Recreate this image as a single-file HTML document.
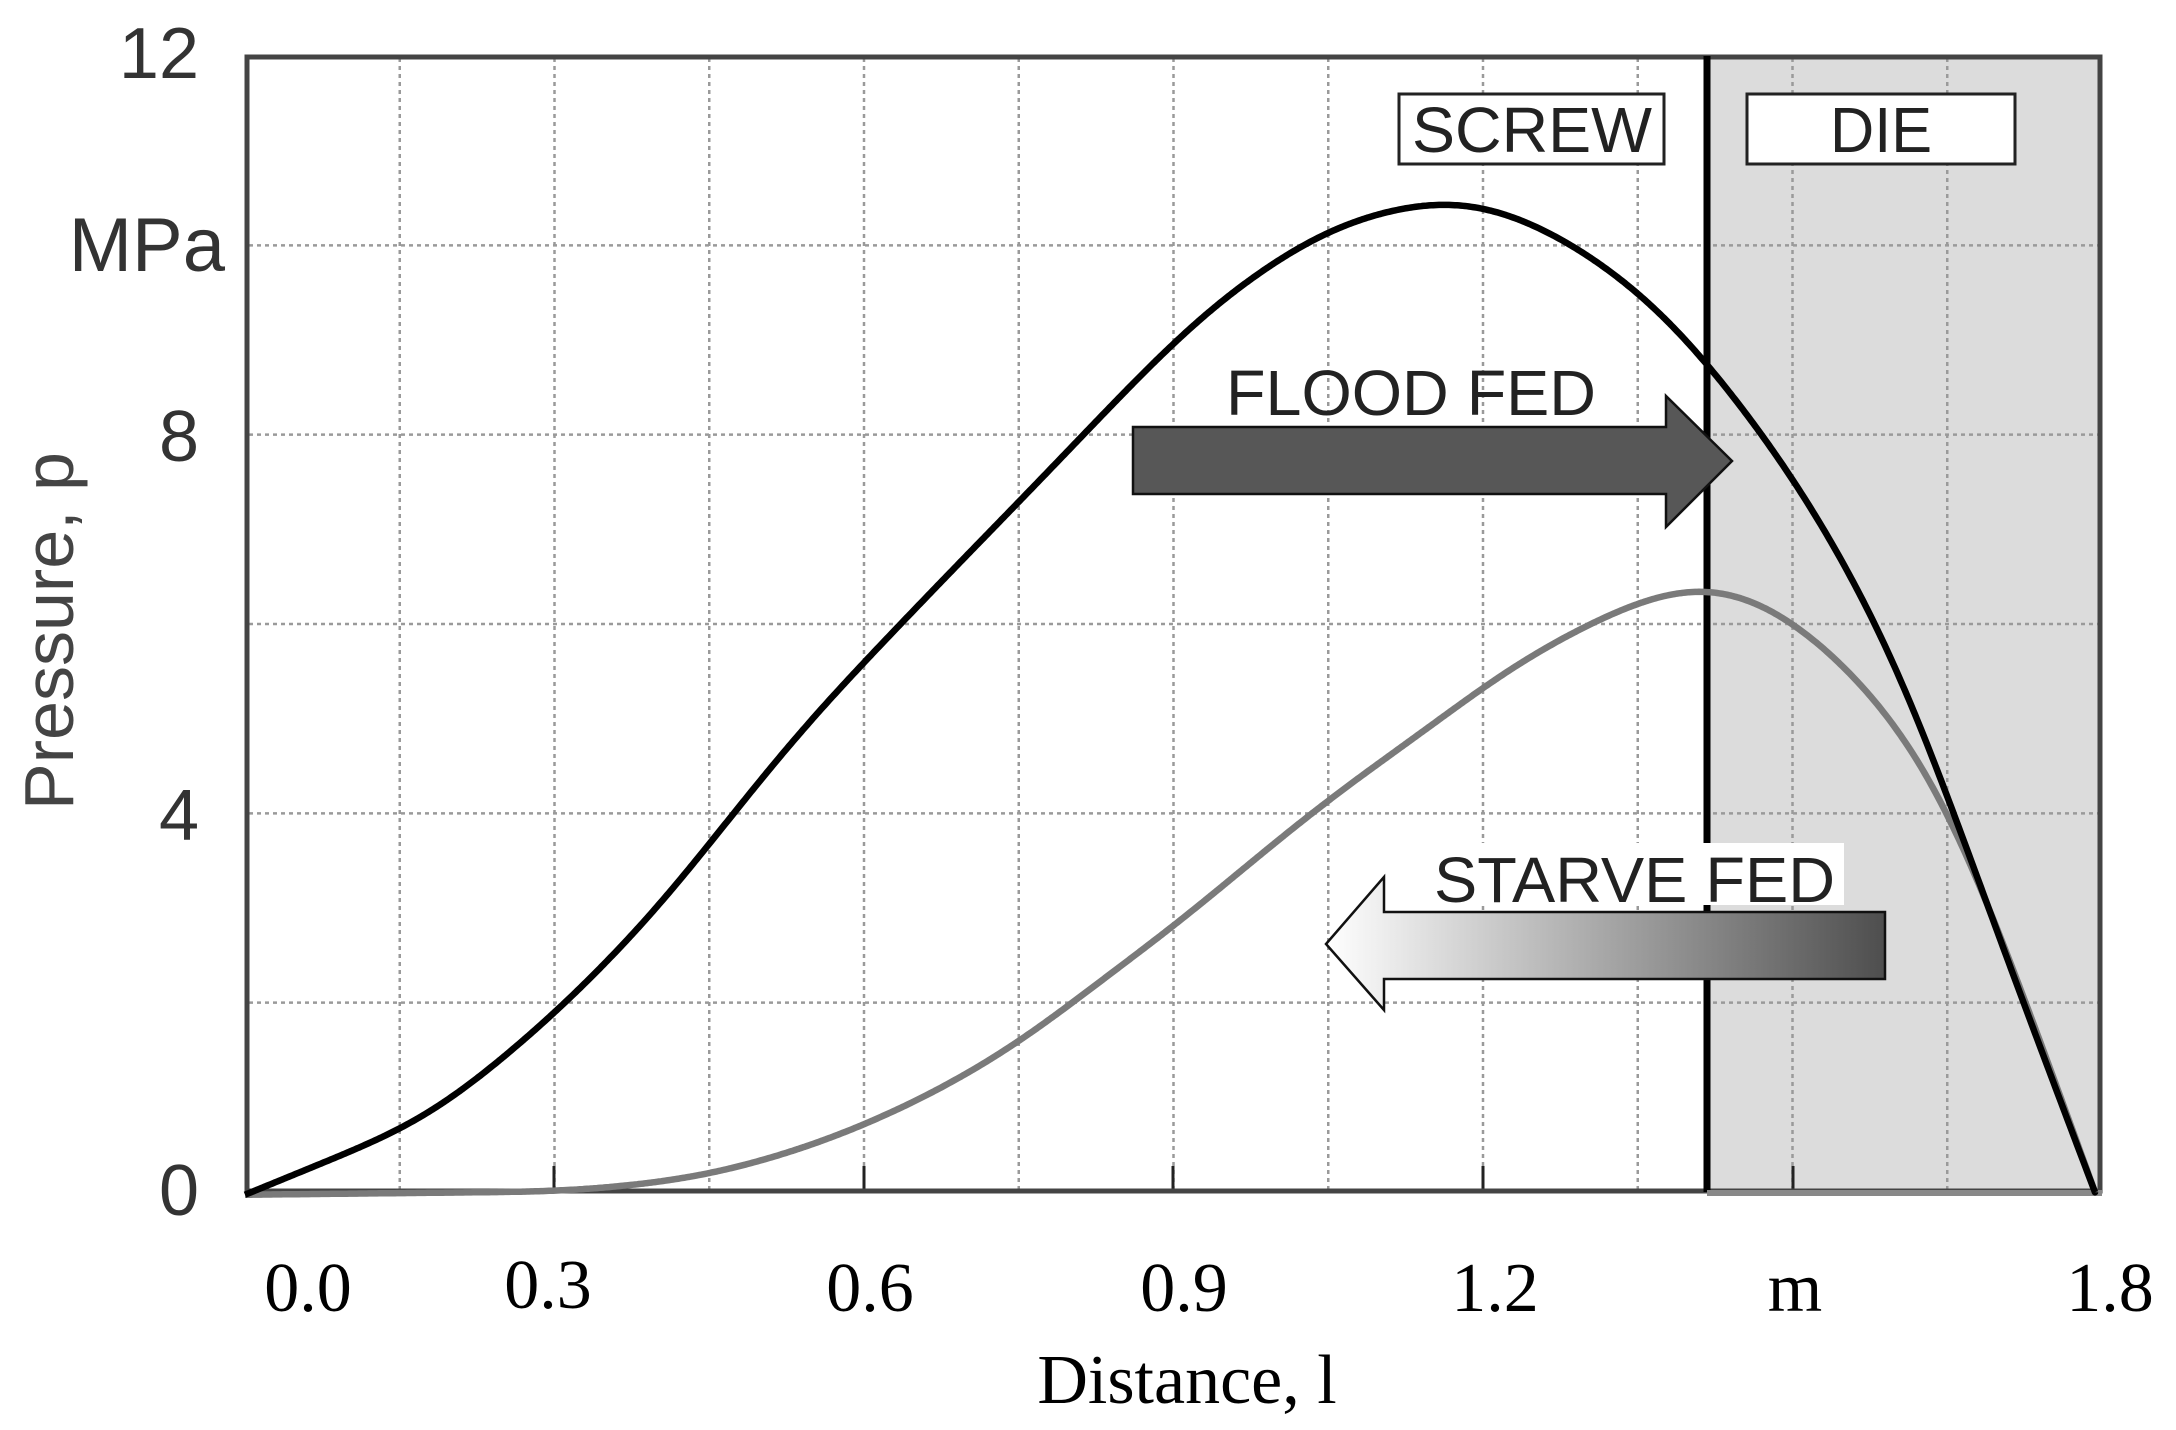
<!DOCTYPE html>
<html><head><meta charset="utf-8"><style>
html,body{margin:0;padding:0;background:#fff;}
svg{display:block;}
</style></head><body>
<svg id="s" width="2176" height="1430" viewBox="0 0 2176 1430" xmlns="http://www.w3.org/2000/svg">
<rect x="0" y="0" width="2176" height="1430" fill="#fff"/>
<rect x="1707" y="56" width="395" height="1136" fill="#dcdcdc"/>
<g id="grid" stroke="#9a9a9a" stroke-width="2.5" stroke-dasharray="4,4"></g>
<g stroke="#222" stroke-width="3">
<line x1="554" y1="1192" x2="554" y2="1166"/><line x1="864" y1="1192" x2="864" y2="1166"/>
<line x1="1173" y1="1192" x2="1173" y2="1166"/><line x1="1483" y1="1192" x2="1483" y2="1166"/>
<line x1="1793" y1="1192" x2="1793" y2="1166"/>
</g>
<rect x="247" y="57" width="1853" height="1134" fill="none" stroke="#444" stroke-width="5"/>
<line x1="1707" y1="56" x2="1707" y2="1192" stroke="#000" stroke-width="7"/>
<line x1="1707" y1="1193" x2="2102" y2="1193" stroke="#888" stroke-width="6"/>
<path id="c2" fill="none" stroke="#7a7a7a" stroke-width="6.5" stroke-linejoin="round"/>
<path id="c1" fill="none" stroke="#000" stroke-width="6.5" stroke-linejoin="round"/>
<g font-family="Liberation Sans, sans-serif" font-size="64" fill="#222">
<rect x="1399" y="94" width="265" height="70" fill="#fff" stroke="#222" stroke-width="3"/>
<text x="1412" y="152" textLength="240" lengthAdjust="spacingAndGlyphs">SCREW</text>
<rect x="1747" y="94" width="268" height="70" fill="#fff" stroke="#222" stroke-width="3"/>
<text x="1830" y="152" textLength="102" lengthAdjust="spacingAndGlyphs">DIE</text>
<text x="1226" y="415" textLength="370" lengthAdjust="spacingAndGlyphs">FLOOD FED</text>
<polygon points="1133,427 1666,427 1666,396 1732,461 1666,527 1666,494 1133,494" fill="#575757" stroke="#111" stroke-width="2.5"/>
<defs><linearGradient id="g" x1="0" x2="1" y1="0" y2="0"><stop offset="0" stop-color="#fff"/><stop offset="1" stop-color="#4e4e4e"/></linearGradient></defs>
<rect x="1424" y="843" width="420" height="62" fill="#fff"/>
<text x="1434" y="902" textLength="401" lengthAdjust="spacingAndGlyphs">STARVE FED</text>
<polygon points="1885,912 1384,912 1384,877 1326,944 1384,1010 1384,979 1885,979" fill="url(#g)" stroke="#111" stroke-width="2.5"/>
</g>
<g font-family="Liberation Sans, sans-serif" font-size="72" fill="#333" text-anchor="end">
<text x="199" y="78">12</text>
<text x="225" y="271" font-size="76">MPa</text>
<text x="199" y="461">8</text>
<text x="199" y="840">4</text>
<text x="199" y="1215">0</text>
</g>
<text transform="translate(73,631) rotate(-90)" font-family="Liberation Sans, sans-serif" font-size="70" fill="#444" text-anchor="middle">Pressure, p</text>
<g font-family="Liberation Serif, serif" font-size="70" fill="#000" text-anchor="middle">
<text x="308" y="1311">0.0</text>
<text x="548" y="1308">0.3</text>
<text x="870" y="1311">0.6</text>
<text x="1184" y="1311">0.9</text>
<text x="1495" y="1311">1.2</text>
<text x="1795" y="1311">m</text>
<text x="2110" y="1311">1.8</text>
<text x="1187" y="1403">Distance, l</text>
</g>
</svg>
<script>
var g=document.getElementById('grid'),ns='http://www.w3.org/2000/svg';
for(var k=1;k<12;k++){var x=245+154.75*k;var l=document.createElementNS(ns,'line');l.setAttribute('x1',x);l.setAttribute('x2',x);l.setAttribute('y1',58);l.setAttribute('y2',1190);g.appendChild(l);}
for(var k=1;k<6;k++){var y=1192-189.33*k;var l=document.createElementNS(ns,'line');l.setAttribute('y1',y);l.setAttribute('y2',y);l.setAttribute('x1',249);l.setAttribute('x2',2100);g.appendChild(l);}
function T(p){return [245+p[0]*1.1865,150+p[1]*0.6697];}
function path(pts,W){pts=pts.map(T);var x0=pts[0][0],x1=pts[pts.length-1][0];var ys=[],j=0;
for(var x=x0;x<=x1;x+=1){while(j<pts.length-2&&pts[j+1][0]<x)j++;var a=pts[j],b=pts[j+1];var t=(x-a[0])/(b[0]-a[0]);ys.push(a[1]+t*(b[1]-a[1]));}
var n=ys.length;for(var pass=0;pass<3;pass++){var o=[];for(var i=0;i<n;i++){var w=Math.min(W,i,n-1-i);var s=0;for(var k=-w;k<=w;k++)s+=ys[i+k];o.push(s/(2*w+1));}ys=o;}
var d='M'+x0+','+ys[0];for(var i=2;i<n;i+=2)d+=' L'+(x0+i)+','+ys[i].toFixed(1);d+=' L'+(x0+n-1)+','+ys[n-1];return d;}
document.getElementById('c1').setAttribute('d',path([[0,1560],[135,1462],[180,1412],[268,1280],[350,1130],[405,1005],[470,862],[535,740],[600,620],[662,508],[720,400],[790,272],[850,185],[920,110],[1000,74],[1050,82],[1100,120],[1150,175],[1200,250],[1230,310],[1260,380],[1305,485],[1350,620],[1400,790],[1440,990],[1500,1280],[1560,1560]],38));
document.getElementById('c2').setAttribute('d',path([[0,1560],[270,1555],[350,1542],[400,1527],[470,1492],[535,1447],[600,1390],[662,1322],[720,1242],[790,1150],[850,1060],[920,960],[1000,860],[1050,792],[1100,737],[1150,692],[1200,656],[1230,650],[1260,658],[1305,700],[1350,770],[1400,870],[1440,990],[1500,1265],[1560,1560]],38));
</script>
</body></html>
